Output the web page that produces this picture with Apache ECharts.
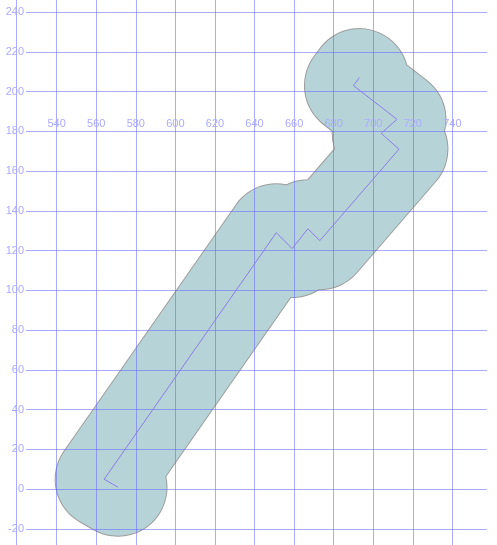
<!DOCTYPE html>
<html>
<head>
<meta charset="utf-8">
<script src="https://cdn.jsdelivr.net/npm/echarts@6/dist/echarts.min.js"></script>
<style>html,body{margin:0;padding:0;background:#fff;}#c{width:497px;height:545px;}</style>
</head>
<body>
<div id="c"></div>
<script>
// Track points (x, y)
const xValues = [693, 690, 712, 704, 713, 673, 667, 659, 651, 564, 571];
const yValues = [207, 203, 186, 179, 171, 125, 131, 121, 129, 5, 1];
const points = xValues.map((x, i) => [x, yValues[i]]);

const gridColor = 'rgba(100,100,255,0.55)';
const labelColor = '#aaaaff';
const font = 'Liberation Sans, Arial, sans-serif';

const chart = echarts.init(document.getElementById('c'));
chart.setOption({
  animation: false,
  backgroundColor: '#fff',
  grid: { left: 26, right: 10, top: 0, bottom: 0, containLabel: false },
  xAxis: {
    type: 'value', position: 'top', offset: -131, z: 3,
    min: 524.5, max: 757.5, splitNumber: 12,
    axisLine: { show: false, onZero: false },
    axisTick: { show: false },
    axisLabel: { color: labelColor, fontSize: 11, fontFamily: font, margin: 2, showMinLabel: false, showMaxLabel: false },
    splitLine: { show: true, showMinLine: false, showMaxLine: false, lineStyle: { color: gridColor, width: 1 } }
  },
  yAxis: {
    type: 'value', position: 'left', offset: 10, z: 3,
    min: -28.05, max: 246.03, splitNumber: 14,
    axisLine: { show: true, onZero: false, lineStyle: { color: gridColor, width: 1 } },
    axisTick: { show: false },
    axisLabel: { color: labelColor, fontSize: 11, fontFamily: font, margin: -8, showMinLabel: false, showMaxLabel: false },
    splitLine: { show: true, showMinLine: false, showMaxLine: false, lineStyle: { color: gridColor, width: 1 } }
  },
  series: [
    {
      type: 'line', data: points, z: 1, silent: true, symbol: 'none',
      lineStyle: { color: '#9c9c9c', width: 99, cap: 'round', join: 'round' }
    },
    {
      type: 'line', data: points, z: 2, silent: true, symbol: 'none',
      lineStyle: { color: '#b6d4d7', width: 97, cap: 'round', join: 'round' }
    },
    {
      type: 'line', data: points, z: 5, silent: true, symbol: 'none',
      lineStyle: { color: '#8a7ee6', width: 1 }
    }
  ]
});
</script>
</body>
</html>
